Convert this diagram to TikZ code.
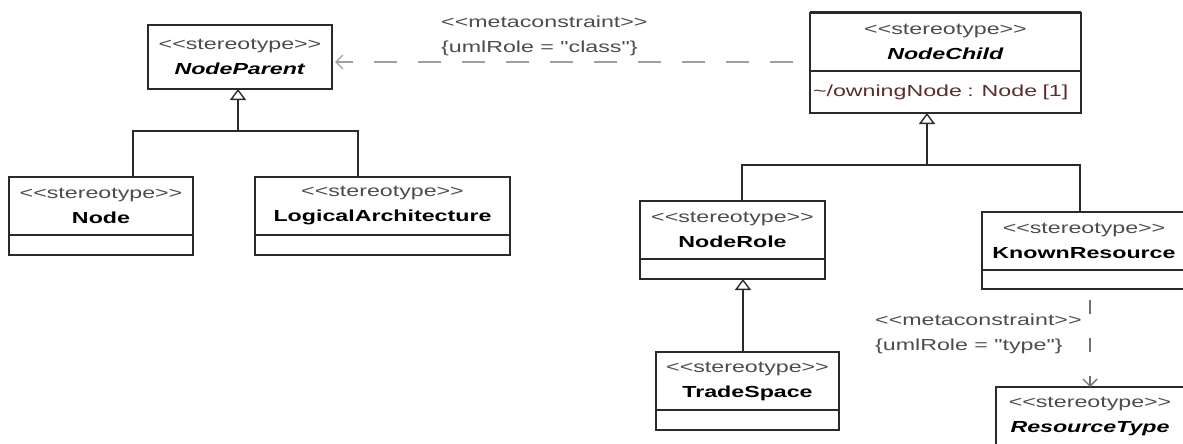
\documentclass[tikz,border=0pt]{standalone}
\usepackage{fontspec}
\setmainfont[FakeStretch=1.45,Ligatures=TeXOff]{Liberation Sans}
\usepackage{tikz}
\usetikzlibrary{arrows.meta,positioning}
\definecolor{BoxInk}{HTML}{2A2A2A}
\definecolor{StereoInk}{HTML}{4C4C4C}
\definecolor{AttrInk}{HTML}{5A2E2E}
\definecolor{DashInk}{HTML}{A0A0A0}
\definecolor{DepInk}{HTML}{707070}
\newcommand{\Stereo}{{\color{StereoInk}<<stereotype>>}\\}

\begin{document}
\begin{tikzpicture}[
  x=1pt,y=-1pt,
  font=\fontsize{16}{25}\selectfont,
  head/.style={draw=BoxInk,line width=1.5pt,fill=white,align=center,inner sep=0pt,
               outer sep=0pt,minimum height=58pt},
  part/.style={draw=BoxInk,line width=1.5pt,fill=white,inner sep=0pt,outer sep=0pt,
               minimum height=20pt},
  tree/.style={draw=BoxInk,line width=1.4pt},
  inherit/.style={tree,-{Triangle[open,length=11pt,width=16pt]}},
  depend/.style={line width=1.4pt,-{Straight Barb[length=7pt,width=14pt]}},
  deplabel/.style={align=left,inner sep=0pt,text=StereoInk,anchor=west},
]
  \clip (0,0) rectangle (1183,444);

  \node[head,minimum width=184pt,minimum height=64pt] (NP) at (240,57)
    {\Stereo\textbf{\textit{NodeParent}}};
  \node[head,minimum width=184pt] (N) at (101,206) {\Stereo\textbf{Node}};
  \node[part,minimum width=184pt,below=0pt of N] (Nb) {};
  \node[head,minimum width=255pt] (LA) at (382.5,206) {\Stereo\textbf{LogicalArchitecture}};
  \node[part,minimum width=255pt,below=0pt of LA] (LAb) {};

  \node[head,minimum width=271pt] (NC) at (945.5,42) {\Stereo\textbf{\textit{NodeChild}}};
  \node[part,minimum width=271pt,minimum height=42pt,text width=265pt,align=left,
        text=AttrInk,below=0pt of NC] (NCa) {\textasciitilde/owningNode : Node [1]};
  \draw[BoxInk,line width=3pt] (NC.north west) -- (NC.north east);

  \node[head,minimum width=185pt] (NR) at (732.5,230) {\Stereo\textbf{NodeRole}};
  \node[part,minimum width=185pt,below=0pt of NR] (NRb) {};
  \node[head,minimum width=204pt] (KR) at (1084,241) {\Stereo\textbf{KnownResource}};
  \node[part,minimum width=204pt,minimum height=19pt,below=0pt of KR] (KRb) {};
  \node[head,minimum width=183pt] (TS) at (747.5,381) {\Stereo\textbf{TradeSpace}};
  \node[part,minimum width=183pt,below=0pt of TS] (TSb) {};
  \node[head,minimum width=188pt] (RT) at (1090,416) {\Stereo\textbf{\textit{ResourceType}}};

  \coordinate (busL) at (238,131);
  \draw[inherit] (busL) -- (busL |- NP.south);
  \draw[tree] ([xshift=32pt]N.north) |- (busL) -| ([xshift=-24.5pt]LA.north);

  \coordinate (busR) at (927,165);
  \draw[inherit] (busR) -- (busR |- NCa.south);
  \draw[tree] ([xshift=9.5pt]NR.north) |- (busR) -| ([xshift=-4pt]KR.north);

  \coordinate (tsTop) at ([xshift=-4.5pt]TS.north);
  \draw[inherit] (tsTop) -- (tsTop |- NRb.south);

  \coordinate (dcA) at ([yshift=-20pt]NC.west);
  \draw[depend,draw=DashInk,dash pattern=on 23pt off 21pt,dash phase=27pt,shorten >=3pt]
    (dcA) -- (dcA -| NP.east);
  \node[deplabel] (lblClass) at (441,35.5) {<<metaconstraint>>\\\{umlRole = "class"\}};

  \coordinate (dkA) at ([xshift=6pt]KRb.south);
  \draw[depend,draw=DepInk,dash pattern=on 14pt off 24pt,dash phase=27pt]
    (dkA) -- (dkA |- RT.north);
  \node[deplabel] (lblType) at (875,333.5) {<<metaconstraint>>\\\{umlRole = "type"\}};
\end{tikzpicture}
\end{document}
